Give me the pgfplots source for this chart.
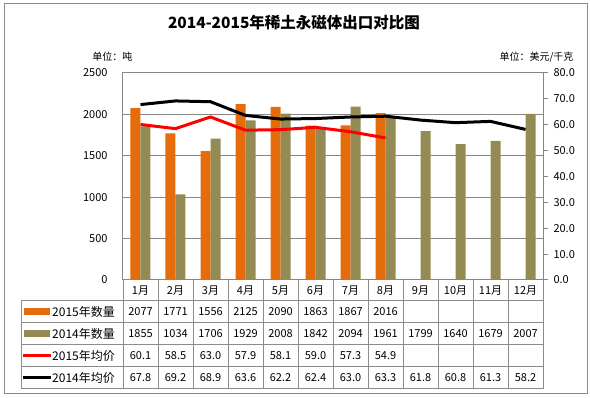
\documentclass[border=0pt]{standalone}
\usepackage{fontspec}
\setmainfont{Noto Sans CJK SC}
\usepackage{pgfplots}
\pgfplotsset{compat=1.18}
\definecolor{oA}{HTML}{E46C0A}
\definecolor{oB}{HTML}{948A54}
\definecolor{bgray}{HTML}{8C8C8C}
\definecolor{ggray}{HTML}{868686}
\begin{document}
\begin{tikzpicture}[x=1pt,y=1pt]
\useasboundingbox (0,0) rectangle (590,398);
\draw[bgray, line width=1pt] (4,4) rectangle (587,394);
\node[font=\fontsize{15.5}{18}\selectfont\bfseries] at (294,375) {2014-2015年稀土永磁体出口对比图};
\node[anchor=east, font=\fontsize{10}{12}\selectfont] at (136,341) {单位：吨};
\node[anchor=east, font=\fontsize{10}{12}\selectfont] at (577,341) {单位：美元/千克};

\begin{axis}[at={(123pt,118pt)}, anchor=south west, width=420pt, height=207pt, scale only axis,
  xmin=-0.5, xmax=11.5, ymin=0, ymax=2500, ytick={0,500,...,2500}, xtick=\empty,
  ymajorgrids, grid style={ggray, line width=1pt}, axis line style={ggray, line width=1pt},
  major tick length=0pt,
  ybar=0pt, bar width=10pt,
  yticklabel style={font=\fontsize{11}{13}\selectfont, xshift=-12pt},
  /pgf/number format/assume math mode=true, /pgf/number format/1000 sep={}]
\addplot[fill=oA, draw=none] coordinates {(0,2077) (1,1771) (2,1556) (3,2125) (4,2090) (5,1863) (6,1867) (7,2016)};
\addplot[fill=oB, draw=none] coordinates {(0,1855) (1,1034) (2,1706) (3,1929) (4,2008) (5,1842) (6,2094) (7,1961) (8,1799) (9,1640) (10,1679) (11,2007)};
\end{axis}

\begin{axis}[at={(123pt,118pt)}, anchor=south west, width=420pt, height=207pt, scale only axis,
  xmin=-0.5, xmax=11.5, ymin=0, ymax=80, ytick={0,10,...,80},
  axis y line*=right, axis x line=none,
  axis line style={ggray, line width=1pt}, tick style={ggray, line width=1pt},
  tick align=outside, major tick length=5pt,
  yticklabel style={font=\fontsize{11}{13}\selectfont, xshift=2pt},
  /pgf/number format/assume math mode=true, /pgf/number format/fixed, /pgf/number format/zerofill, /pgf/number format/precision=1]
\addplot[red, line width=3pt, mark=none] coordinates {(0,60.1) (1,58.5) (2,63.0) (3,57.9) (4,58.1) (5,59.0) (6,57.3) (7,54.9)};
\addplot[black, line width=3pt, mark=none] coordinates {(0,67.8) (1,69.2) (2,68.9) (3,63.6) (4,62.2) (5,62.4) (6,63.0) (7,63.3) (8,61.8) (9,60.8) (10,61.3) (11,58.2)};
\end{axis}

% data table
\begin{scope}[bgray, line width=1pt]
\foreach \yy in {97,75,53,31,9} \draw (21,\yy) -- (543,\yy);
\draw (21,97) -- (21,9);
\foreach \k in {0,...,12} \draw (123+35*\k,118) -- (123+35*\k,9);
\end{scope}
\begin{scope}[font=\fontsize{11}{13}\selectfont]
\foreach \m [count=\i from 0] in {1,...,12} \node at (140.5+35*\i,107) {\m 月};
\foreach \v [count=\i from 0] in {2077,1771,1556,2125,2090,1863,1867,2016} \node at (140.5+35*\i,86) {\v};
\foreach \v [count=\i from 0] in {1855,1034,1706,1929,2008,1842,2094,1961,1799,1640,1679,2007} \node at (140.5+35*\i,64) {\v};
\foreach \v [count=\i from 0] in {60.1,58.5,63.0,57.9,58.1,59.0,57.3,54.9} \node at (140.5+35*\i,42) {\v};
\foreach \v [count=\i from 0] in {67.8,69.2,68.9,63.6,62.2,62.4,63.0,63.3,61.8,60.8,61.3,58.2} \node at (140.5+35*\i,20) {\v};
\fill[oA] (24,82.5) rectangle (50,89.5);
\fill[oB] (24,60.5) rectangle (50,67.5);
\draw[red, line width=3pt] (23,42) -- (51,42);
\draw[black, line width=3pt] (23,20) -- (51,20);
\end{scope}
\begin{scope}[font=\fontsize{12}{14}\selectfont]
\node[anchor=west, inner sep=0pt] at (52,86) {2015年数量};
\node[anchor=west, inner sep=0pt] at (52,64) {2014年数量};
\node[anchor=west, inner sep=0pt] at (52,42) {2015年均价};
\node[anchor=west, inner sep=0pt] at (52,20) {2014年均价};
\end{scope}
\end{tikzpicture}
\end{document}
